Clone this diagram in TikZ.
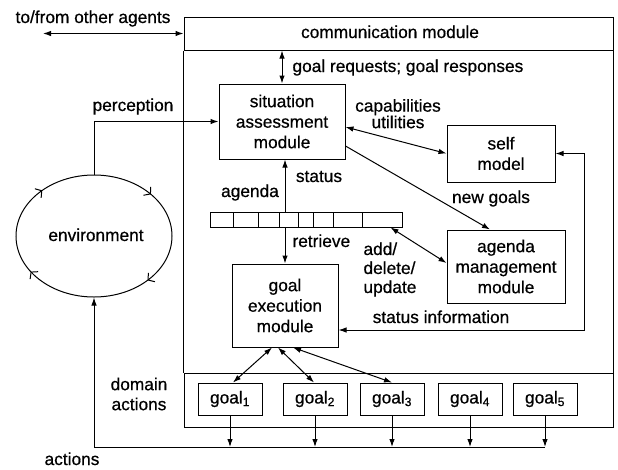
\documentclass[tikz,border=0pt]{standalone}
\usepackage{fontspec}
\setmainfont{Liberation Sans}[FakeBold=0.6]
\usetikzlibrary{arrows.meta,decorations.markings,shapes.geometric}
\begin{document}
\begin{tikzpicture}[x=1pt,y=-1pt, line width=1pt,
  every node/.style={font=\fontsize{17.3}{20.5}\selectfont, inner sep=0pt},
  box/.style={draw, rectangle, align=center},
  lbl/.style={anchor=base},
  arr/.style={-{Latex[length=8pt,width=5.5pt]}},
  darr/.style={{Latex[length=8pt,width=5.5pt]}-{Latex[length=8pt,width=5.5pt]}}
]
\useasboundingbox (0,0) rectangle (618,469);

% agent frame
\node[box, minimum width=429pt, minimum height=33pt] (comm) at (398.5,33.5) {};
\node[lbl] (commt) at (390,38) {communication module};
\node[box, minimum width=429pt, minimum height=54pt] (strip) at (398.5,400) {};
\draw (comm.south west) -- (strip.north west);
\draw (comm.south east) -- (strip.north east);

% modules
\node[box, minimum width=126pt, minimum height=75pt] (sa) at (282,121.5) {situation\\assessment\\module};
\node[box, minimum width=108pt, minimum height=57pt] (self) at (501,153.5) {self\\model};
\node[box, minimum width=118pt, minimum height=73pt] (agm) at (506,266.5) {agenda\\management\\module};
\node[box, minimum width=106pt, minimum height=83pt] (ge) at (285,305.5) {goal\\execution\\module};

% agenda bar
\node[box, minimum width=192pt, minimum height=15pt] (ag) at (306,219.5) {};
\foreach \x in {233,258,279,298,313,333,362} \draw (\x,212) -- (\x,227);

% goals
\foreach \i/\x in {1/230,2/315,3/392,4/470,5/545}
  \node[box, minimum width=64pt, minimum height=32pt] (g\i) at (\x,399) {goal\textsubscript{\i}};

% environment
\node[ellipse, minimum width=156pt, minimum height=122pt, inner sep=0pt] (env) at (94,236) {};
\draw[postaction={decorate}, decoration={markings,
   mark=at position 0.11 with {\arrowreversed[line width=1pt]{Straight Barb[length=4.5pt,width=11pt]}},
   mark=at position 0.375 with {\arrowreversed[line width=1pt]{Straight Barb[length=4.5pt,width=11pt]}},
   mark=at position 0.59 with {\arrowreversed[line width=1pt]{Straight Barb[length=4.5pt,width=11pt]}},
   mark=at position 0.88 with {\arrowreversed[line width=1pt]{Straight Barb[length=4.5pt,width=11pt]}}}]
   (env.center) ellipse [x radius=78pt, y radius=61pt];
\node[lbl] (envt) at (96,241) {environment};

% connectors
\coordinate (tfl) at (43,33.5);
\draw[darr] (tfl) -- (comm.west);
\draw[darr] (sa.north |- comm.south) -- (sa.north);
\draw[arr] (env.north) |- (sa.west);
\draw[darr] ([yshift=-5.5pt]sa.east) -- (self.west);
\draw[arr] ([yshift=-24.5pt]sa.east) -- ([xshift=-16pt]agm.north);
\draw[arr] (ag.north -| ge.north) -- (sa.south -| ge.north);
\draw[arr] (ag.south -| ge.north) -- (ge.north);
\draw[darr] ([yshift=3.5pt]agm.west) -- ([xshift=-12pt]ag.south east);
\coordinate (sr) at (584,330);
\draw[darr] (self.east) -| (sr) -- (sr -| ge.east);
\draw[darr] ([xshift=-13pt]ge.south) -- ([xshift=3pt]g1.north);
\draw[darr] ([xshift=-7pt]ge.south) -- ([xshift=-1pt]g2.north);
\draw[darr] ([xshift=8pt]ge.south) -- (g3.north);
\coordinate (actL) at (94,447);
\foreach \i in {1,...,5} \draw[arr] (g\i.south) -- (g\i.south |- actL);
\draw[arr] (g5.south |- actL) -- (actL) -- (env.south);

% labels
\node[lbl] (tft) at (93,23) {to/from other agents};
\node[lbl, anchor=base west] (grt) at (292,72) {goal requests; goal responses};
\node[lbl] (perc) at (133,111) {perception};
\node[align=center, font=\fontsize{17.3}{16.5}\selectfont] (cap) at (398,113.7) {capabilities\\utilities};
\node[lbl] (ng) at (491,203) {new goals};
\node[lbl] (st) at (319,182) {status};
\node[lbl] (agt) at (250,197) {agenda};
\node[lbl, anchor=base west] (ret) at (292,247) {retrieve};
\node[align=left, anchor=west, font=\fontsize{17.3}{19}\selectfont] (adu) at (363,269.5) {add/\\delete/\\update};
\node[lbl] (si) at (441,323) {status information};
\node[align=center, font=\fontsize{17.3}{20}\selectfont] (da) at (139,394) {domain\\actions};
\node[lbl] (act) at (72,465) {actions};
\end{tikzpicture}
\end{document}
